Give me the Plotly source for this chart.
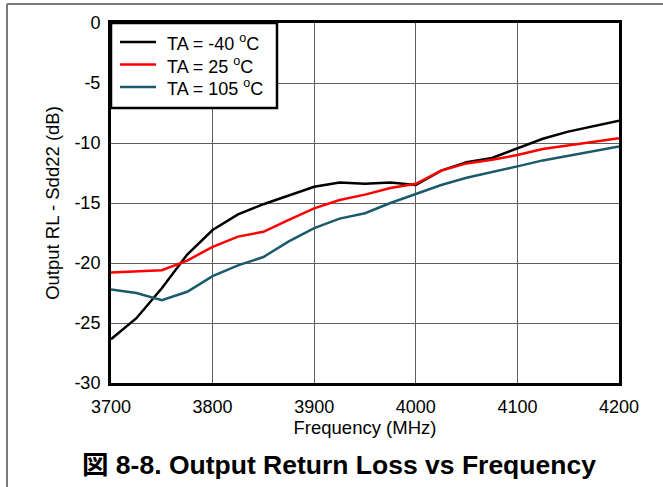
import plotly.graph_objects as go

freq = [3700, 3725, 3750, 3775, 3800, 3825, 3850, 3875, 3900, 3925, 3950,
        3975, 4000, 4025, 4050, 4075, 4100, 4125, 4150, 4175, 4200]
rl_m40 = [-26.35, -24.6, -22.1, -19.3, -17.25, -15.95, -15.1, -14.35, -13.65, -13.3, -13.4,
          -13.3, -13.5, -12.3, -11.6, -11.25, -10.45, -9.65, -9.05, -8.6, -8.15]
rl_25 = [-20.8, -20.7, -20.6, -19.8, -18.65, -17.8, -17.4, -16.4, -15.45, -14.75, -14.3,
         -13.75, -13.4, -12.3, -11.7, -11.4, -11.0, -10.5, -10.2, -9.95, -9.6]
rl_105 = [-22.2, -22.5, -23.1, -22.4, -21.1, -20.2, -19.5, -18.2, -17.1, -16.3, -15.85,
          -15.0, -14.25, -13.5, -12.9, -12.45, -11.95, -11.45, -11.05, -10.65, -10.3]
names = ["TA = -40 <sup>o</sup>C", "TA = 25 <sup>o</sup>C", "TA = 105 <sup>o</sup>C"]
colors = ["#000000", "#ff0000", "#1b5a6a"]
x_ticks = [3700, 3800, 3900, 4000, 4100, 4200]
y_ticks = [0, -5, -10, -15, -20, -25, -30]

W, H = 663, 487
L, R, T, B = 111, 619, 23, 383


def px(x):
    return (x - L) / (R - L)


def py(y):
    return (B - y) / (B - T)


FONT = "Liberation Sans, Arial, sans-serif"
fig = go.Figure()
for ys, nm, c in zip([rl_m40, rl_25, rl_105], names, colors):
    fig.add_trace(go.Scatter(x=freq, y=ys, mode="lines", name=nm,
                             line=dict(color=c, width=2.5), showlegend=False))

fig.update_layout(
    width=W, height=H,
    margin=dict(l=L, r=W - R, t=T, b=H - B, pad=0),
    paper_bgcolor="white", plot_bgcolor="white",
    font=dict(family=FONT, size=18, color="black"),
    showlegend=False,
    xaxis=dict(range=[3700, 4200], tickvals=x_ticks, ticktext=[str(v) for v in x_ticks],
               showgrid=True, gridcolor="#5e5e5e", gridwidth=1.3,
               showline=True, linecolor="black", linewidth=3, mirror=True,
               ticks="outside", ticklen=5, tickcolor="rgba(0,0,0,0)",
               zeroline=False, tickfont=dict(size=18),
               title=dict(text="Frequency (MHz)", standoff=0,
                          font=dict(family=FONT, size=18.5))),
    yaxis=dict(range=[-30, 0], tickvals=y_ticks, ticktext=[str(v) for v in y_ticks],
               showgrid=True, gridcolor="#5e5e5e", gridwidth=1.3,
               showline=True, linecolor="black", linewidth=3, mirror=True,
               ticks="outside", ticklen=4, tickcolor="rgba(0,0,0,0)",
               zeroline=False, tickfont=dict(size=18),
               title=dict(text="Output RL - Sdd22 (dB)", standoff=10,
                          font=dict(family=FONT, size=18.5))),
)

# custom legend box (drawn with layout shapes + text annotations)
fig.add_shape(type="rect", xref="paper", yref="paper", layer="above",
              x0=px(111), x1=px(277), y0=py(108), y1=py(23),
              fillcolor="white", line=dict(color="black", width=2.5))
for i, (nm, c) in enumerate(zip(names, colors)):
    yc = [42, 64.5, 87][i]
    fig.add_shape(type="line", xref="paper", yref="paper", layer="above",
                  x0=px(120), x1=px(156), y0=py(yc), y1=py(yc),
                  line=dict(color=c, width=2.5))
    fig.add_annotation(text=nm, xref="paper", yref="paper", x=px(165), y=py(yc + 0.5),
                       xanchor="left", yanchor="middle", showarrow=False,
                       font=dict(family=FONT, size=18, color="black"))

# outer frame lines (top and left)
fig.add_shape(type="line", xref="paper", yref="paper",
              x0=px(7), x1=px(W + 5), y0=py(4), y1=py(4),
              line=dict(color="#7a7a7a", width=2))
fig.add_shape(type="line", xref="paper", yref="paper",
              x0=px(7), x1=px(7), y0=py(4), y1=py(H + 5),
              line=dict(color="#7a7a7a", width=2))

fig.add_annotation(text="<b>図 8-8. Output Return Loss vs Frequency</b>",
                   xref="paper", yref="paper", x=px(339), y=py(465),
                   xanchor="center", yanchor="middle", showarrow=False,
                   font=dict(family="Liberation Sans, Arial, Noto Sans CJK JP, sans-serif",
                             size=26.5, color="black"))

fig.write_html("out.html")
